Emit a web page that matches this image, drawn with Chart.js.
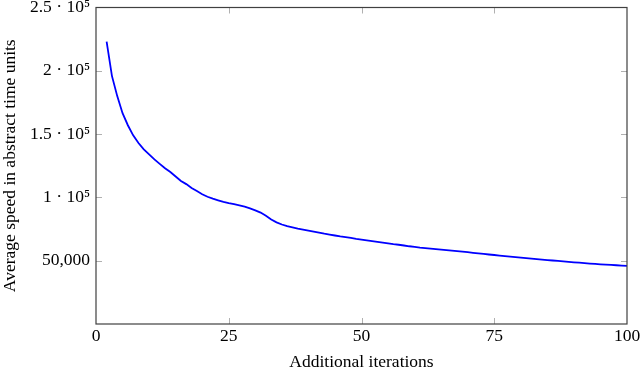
<!DOCTYPE html>
<html>
<head>
<meta charset="utf-8">
<script src="https://cdn.jsdelivr.net/npm/chart.js@4/dist/chart.umd.min.js"></script>
<style>
html,body{margin:0;padding:0;background:#fff;}
#wrap{width:640px;height:369px;position:relative;}
</style>
</head>
<body>
<div id="wrap"><canvas id="c"></canvas></div>
<script>
const iterations = [2,3,4,5,6,7,8,9,10,11,12,13,14,15,16,17,18,19,20,21,22,23,24,25,26,27,28,29,30,31,32,33,34,35,36,37,38,39,40,41,42,43,44,45,46,47,48,49,50,51,52,53,54,55,56,57,58,59,60,61,62,63,64,65,66,67,68,69,70,71,72,73,74,75,76,77,78,79,80,81,82,83,84,85,86,87,88,89,90,91,92,93,94,95,96,97,98,99,100];
const avgSpeed = [223000,196000,180000,166500,157000,149000,143000,138000,134000,130000,126500,123000,120000,116500,113000,110500,107500,105000,102500,100500,99000,97700,96500,95500,94600,93700,92700,91400,89800,88000,85500,82500,80300,78600,77300,76300,75300,74500,73700,72900,72100,71300,70600,69900,69200,68600,68000,67300,66700,66100,65500,64900,64300,63700,63100,62600,62000,61400,60900,60400,60000,59600,59200,58800,58400,58000,57600,57150,56700,56250,55800,55350,54900,54500,54050,53650,53250,52850,52450,52050,51650,51250,50900,50500,50150,49800,49450,49100,48750,48400,48050,47750,47450,47150,46900,46650,46400,46150,45900];
const xTicks = [0,25,50,75,100];
const yTicks = [50000,100000,150000,200000,250000];
const yTickLabels = ['50,000','1 \u00B7 10\u2075','1.5 \u00B7 10\u2075','2 \u00B7 10\u2075','2.5 \u00B7 10\u2075'];
const xTitle = 'Additional iterations';
const yTitle = 'Average speed in abstract time units';

const FONT = "'Liberation Serif', 'Times New Roman', serif";
const FS = 17.5;

const frame = {
  id: 'frame',
  afterDraw(chart) {
    const {ctx, chartArea: a, scales: {x, y}} = chart;
    ctx.save();
    ctx.strokeStyle = '#b0b0b0';
    ctx.lineWidth = 1;
    const L = 6;
    ctx.beginPath();
    xTicks.forEach(v => {
      if (v === 0 || v === 100) return;
      const px = Math.round(x.getPixelForValue(v)) + 0.5;
      ctx.moveTo(px, a.bottom); ctx.lineTo(px, a.bottom - L);
      ctx.moveTo(px, a.top); ctx.lineTo(px, a.top + L);
    });
    yTicks.forEach(v => {
      if (v === 250000) return;
      const py = Math.round(y.getPixelForValue(v)) + 0.5;
      ctx.moveTo(a.left, py); ctx.lineTo(a.left + L, py);
      ctx.moveTo(a.right, py); ctx.lineTo(a.right - L, py);
    });
    ctx.stroke();
    ctx.strokeStyle = '#404040';
    ctx.lineWidth = 1.2;
    ctx.strokeRect(a.left, a.top, a.right - a.left, a.bottom - a.top);
    ctx.restore();
  }
};

new Chart(document.getElementById('c'), {
  type: 'line',
  data: {
    labels: iterations,
    datasets: [{
      data: iterations.map((v, i) => ({x: v, y: avgSpeed[i]})),
      borderColor: '#0000ff',
      borderWidth: 1.8,
      pointRadius: 0,
      tension: 0,
      fill: false
    }]
  },
  options: {
    responsive: true,
    maintainAspectRatio: false,
    animation: false,
    devicePixelRatio: 1,
    layout: {padding: {top: 7.5, right: 13, left: 0, bottom: 0}},
    plugins: {legend: {display: false}, tooltip: {enabled: false}},
    scales: {
      x: {
        type: 'linear',
        min: 0, max: 100,
        afterBuildTicks: s => { s.ticks = xTicks.map(v => ({value: v})); },
        grid: {display: false, drawTicks: false},
        border: {display: false},
        ticks: {color: '#000', font: {family: FONT, size: FS}, padding: 2, maxRotation: 0, autoSkip: false},
        title: {display: true, text: xTitle, color: '#000', font: {family: FONT, size: FS, lineHeight: 0.8}, padding: {top: 0, bottom: 0}},
        afterFit: s => { s.height = 45; s.paddingLeft = 0; s.paddingRight = 0; }
      },
      y: {
        type: 'linear',
        min: 0, max: 250000,
        afterBuildTicks: s => { s.ticks = yTicks.map(v => ({value: v})); },
        grid: {display: false, drawTicks: false},
        border: {display: false},
        ticks: {color: '#000', font: {family: FONT, size: FS}, padding: 6, autoSkip: false,
          callback: (v) => { const i = yTicks.indexOf(v); return i >= 0 ? yTickLabels[i] : ''; }},
        title: {display: true, text: yTitle, color: '#000', font: {family: FONT, size: FS}, padding: {top: 0, bottom: 0}},
        afterFit: s => { s.width = 96; s.paddingTop = 0; s.paddingBottom = 0; }
      }
    }
  },
  plugins: [frame]
});
</script>
</body>
</html>
